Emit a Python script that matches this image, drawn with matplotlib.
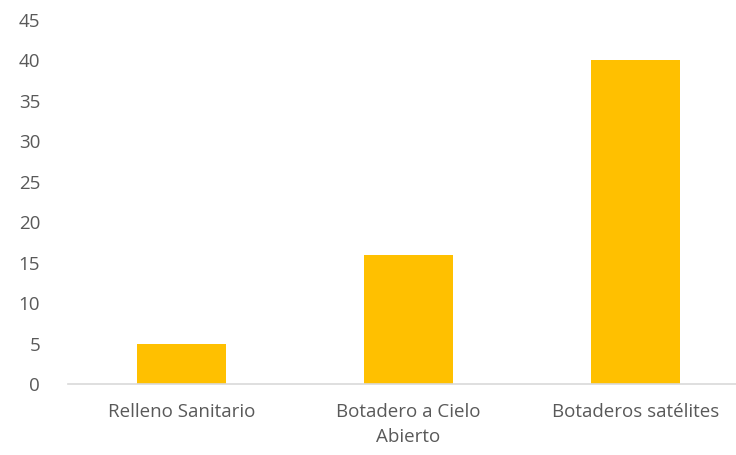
import matplotlib.pyplot as plt

categories = ["Relleno Sanitario", "Botadero a Cielo\nAbierto", "Botaderos satélites"]
values = [5, 16, 40]
yticks = [0, 5, 10, 15, 20, 25, 30, 35, 40, 45]

plt.rcParams["font.family"] = ["Open Sans", "DejaVu Sans"]

fig = plt.figure(figsize=(7.36, 4.55), dpi=100)
ax = fig.add_axes([68 / 736, 71 / 455, 681 / 736, 364 / 455])

ax.bar(range(len(categories)), values, width=0.39, color="#FFC000")

ax.set_xlim(-0.5, 2.5)
ax.set_ylim(0, 45)
ax.set_yticks(yticks)
ax.set_xticks(range(len(categories)))
ax.set_xticklabels(categories, linespacing=1.45)

for s in ["top", "right", "left"]:
    ax.spines[s].set_visible(False)
ax.spines["bottom"].set_color("#d9d9d9")
ax.spines["bottom"].set_linewidth(1.2)

ax.tick_params(axis="y", length=0, pad=20, labelsize=13.5, labelcolor="#595959")
ax.tick_params(axis="x", length=0, pad=14, labelsize=13.5, labelcolor="#595959")

fig.savefig("out.png", dpi=100)
